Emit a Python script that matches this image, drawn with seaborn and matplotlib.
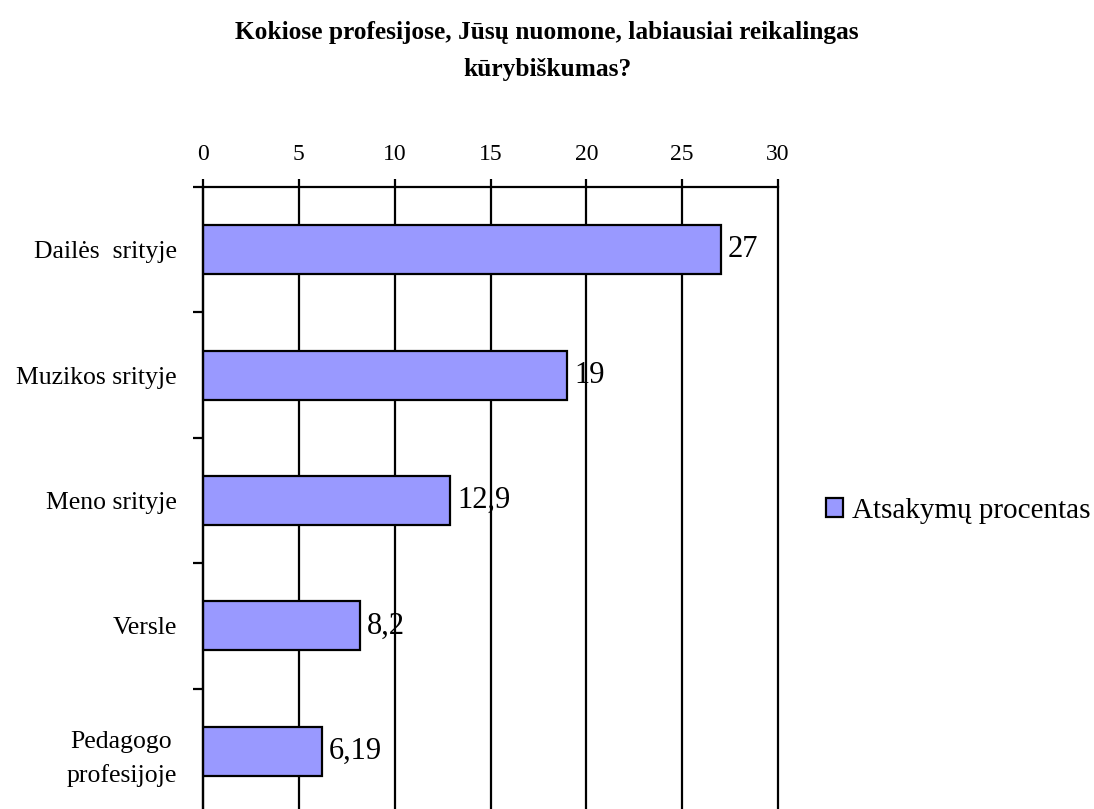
import matplotlib
matplotlib.use("Agg")
import matplotlib.pyplot as plt
import seaborn as sns
import pandas as pd
from matplotlib.ticker import MultipleLocator, FixedLocator

sns.set_theme(style="white")
plt.rcParams["font.family"] = ["Liberation Serif", "DejaVu Serif"]
plt.rcParams["text.color"] = "black"
plt.rcParams["xtick.color"] = "black"
plt.rcParams["ytick.color"] = "black"

categories = ["Dailės  srityje", "Muzikos srityje", "Meno srityje", "Versle",
              "Pedagogo\nprofesijoje"]
values = [27, 19, 12.9, 8.2, 6.19]
value_labels = ["27", "19", "12,9", "8,2", "6,19"]
series_name = "Atsakymų procentas"
x_ticks = [0, 5, 10, 15, 20, 25, 30]

df = pd.DataFrame({"kategorija": categories, "procentas": values})

fig = plt.figure(figsize=(10.94, 8.09), dpi=100)
ax = fig.add_axes([0.1856, -0.0062, 0.5256, 0.7751])

sns.barplot(data=df, x="procentas", y="kategorija", orient="h",
            color="#9999FF", saturation=1, edgecolor="black", linewidth=1.6,
            width=0.39, label=series_name, ax=ax)

ax.set_xlim(0, 30)
ax.set_ylim(4.5, -0.5)
ax.xaxis.set_major_locator(FixedLocator(x_ticks))
ax.xaxis.tick_top()
ax.set_xticklabels([str(t) for t in x_ticks])
ax.xaxis.grid(True, color="black", linewidth=1.6)
ax.yaxis.grid(False)
ax.set_axisbelow(True)
ax.set_xlabel("")
ax.set_ylabel("")
for gl in ax.get_xgridlines():
    gl.set_clip_on(False)

for side in ["right", "bottom"]:
    ax.spines[side].set_visible(False)
for side in ["top", "left"]:
    ax.spines[side].set_color("black")
    ax.spines[side].set_linewidth(1.6)

ax.tick_params(axis="x", which="major", direction="out", length=6, width=1.6,
               color="black", pad=10, labelsize=17, top=True, bottom=False,
               labelcolor="black")
ax.yaxis.set_minor_locator(MultipleLocator(1, offset=0.5))
ax.tick_params(axis="y", which="major", length=0, pad=19, labelsize=18.5,
               labelcolor="black")
ax.tick_params(axis="y", which="minor", direction="out", length=7, width=1.6,
               color="black", left=True)
for lbl in ax.get_yticklabels():
    lbl.set_multialignment("center")
    lbl.set_linespacing(1.6)

ax.bar_label(ax.containers[0], labels=value_labels, padding=5, fontsize=22,
             color="black")

fig.text(0.5, 0.974, "Kokiose profesijose, Jūsų nuomone, labiausiai reikalingas\nkūrybiškumas?",
         ha="center", va="top", fontsize=18.25, fontweight="bold",
         linespacing=1.75, color="black")

leg = ax.legend(loc="center left", bbox_to_anchor=(1.0835, 0.4836), frameon=False,
                fontsize=21, handlelength=0.58, handleheight=0.58,
                handletextpad=0.3, borderaxespad=0, borderpad=0)
for t in leg.get_texts():
    t.set_color("black")

fig.savefig("out.png", dpi=100)
